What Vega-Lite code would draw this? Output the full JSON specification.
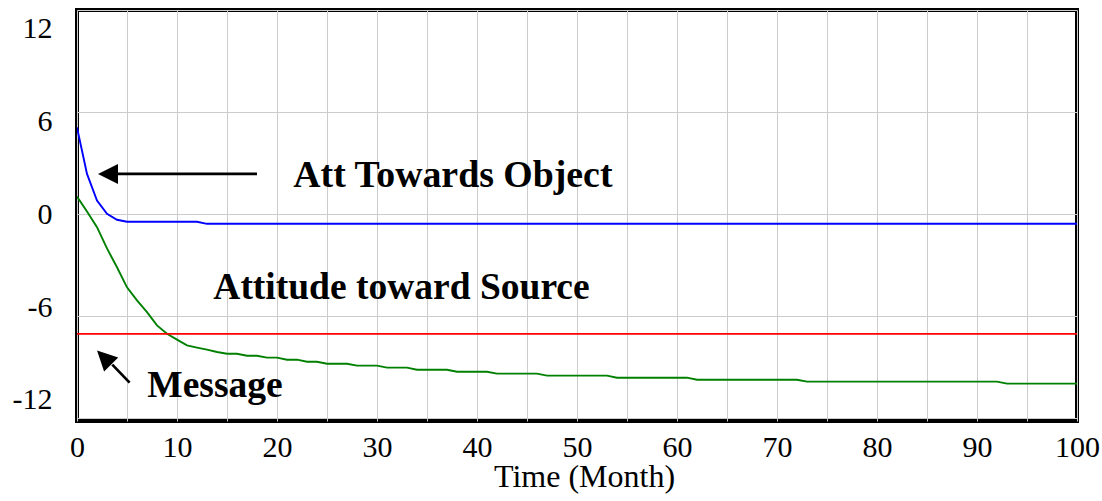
{
  "$schema": "https://vega.github.io/schema/vega-lite/v6.json",
  "width": 1000,
  "height": 411,
  "autosize": "none",
  "padding": {"left": 77, "top": 10, "right": 25, "bottom": 80},
  "background": "white",
  "config": {
    "view": {"stroke": "#000000", "strokeWidth": 4},
    "font": "Liberation Serif"
  },
  "datasets": {
    "sim": [
      {"t": 0, "series": "Att Towards Object", "value": 5.08},
      {"t": 1, "series": "Att Towards Object", "value": 2.35},
      {"t": 2, "series": "Att Towards Object", "value": 0.78},
      {"t": 3, "series": "Att Towards Object", "value": 0.0},
      {"t": 4, "series": "Att Towards Object", "value": -0.35},
      {"t": 5, "series": "Att Towards Object", "value": -0.47},
      {"t": 12, "series": "Att Towards Object", "value": -0.47},
      {"t": 13, "series": "Att Towards Object", "value": -0.59},
      {"t": 100, "series": "Att Towards Object", "value": -0.59},

      {"t": 0, "series": "Attitude toward Source", "value": 1.02},
      {"t": 1, "series": "Attitude toward Source", "value": 0.13},
      {"t": 2, "series": "Attitude toward Source", "value": -0.79},
      {"t": 3, "series": "Attitude toward Source", "value": -2.04},
      {"t": 4, "series": "Attitude toward Source", "value": -3.15},
      {"t": 5, "series": "Attitude toward Source", "value": -4.33},
      {"t": 6, "series": "Attitude toward Source", "value": -5.1},
      {"t": 7, "series": "Attitude toward Source", "value": -5.79},
      {"t": 8, "series": "Attitude toward Source", "value": -6.57},
      {"t": 9, "series": "Attitude toward Source", "value": -7.06},
      {"t": 10, "series": "Attitude toward Source", "value": -7.41},
      {"t": 11, "series": "Attitude toward Source", "value": -7.75},
      {"t": 12, "series": "Attitude toward Source", "value": -7.88},
      {"t": 13, "series": "Attitude toward Source", "value": -8.0},
      {"t": 14, "series": "Attitude toward Source", "value": -8.14},
      {"t": 15, "series": "Attitude toward Source", "value": -8.24},
      {"t": 16, "series": "Attitude toward Source", "value": -8.24},
      {"t": 17, "series": "Attitude toward Source", "value": -8.36},
      {"t": 18, "series": "Attitude toward Source", "value": -8.36},
      {"t": 19, "series": "Attitude toward Source", "value": -8.47},
      {"t": 20, "series": "Attitude toward Source", "value": -8.47},
      {"t": 21, "series": "Attitude toward Source", "value": -8.59},
      {"t": 22, "series": "Attitude toward Source", "value": -8.59},
      {"t": 23, "series": "Attitude toward Source", "value": -8.71},
      {"t": 24, "series": "Attitude toward Source", "value": -8.71},
      {"t": 25, "series": "Attitude toward Source", "value": -8.83},
      {"t": 27, "series": "Attitude toward Source", "value": -8.83},
      {"t": 28, "series": "Attitude toward Source", "value": -8.94},
      {"t": 30, "series": "Attitude toward Source", "value": -8.94},
      {"t": 31, "series": "Attitude toward Source", "value": -9.06},
      {"t": 33, "series": "Attitude toward Source", "value": -9.06},
      {"t": 34, "series": "Attitude toward Source", "value": -9.18},
      {"t": 37, "series": "Attitude toward Source", "value": -9.18},
      {"t": 38, "series": "Attitude toward Source", "value": -9.3},
      {"t": 41, "series": "Attitude toward Source", "value": -9.3},
      {"t": 42, "series": "Attitude toward Source", "value": -9.41},
      {"t": 46, "series": "Attitude toward Source", "value": -9.41},
      {"t": 47, "series": "Attitude toward Source", "value": -9.53},
      {"t": 53, "series": "Attitude toward Source", "value": -9.53},
      {"t": 54, "series": "Attitude toward Source", "value": -9.65},
      {"t": 61, "series": "Attitude toward Source", "value": -9.65},
      {"t": 62, "series": "Attitude toward Source", "value": -9.77},
      {"t": 72, "series": "Attitude toward Source", "value": -9.77},
      {"t": 73, "series": "Attitude toward Source", "value": -9.88},
      {"t": 92, "series": "Attitude toward Source", "value": -9.88},
      {"t": 93, "series": "Attitude toward Source", "value": -10.0},
      {"t": 100, "series": "Attitude toward Source", "value": -10.0},

      {"t": 0, "series": "Message", "value": -7.07},
      {"t": 100, "series": "Message", "value": -7.07}
    ]
  },
  "layer": [
    {
      "data": {"name": "sim"},
      "mark": {"type": "line", "strokeWidth": 1.9, "clip": true},
      "encoding": {
        "x": {
          "field": "t",
          "type": "quantitative",
          "scale": {"domain": [0, 100], "nice": false, "zero": false},
          "axis": {
            "values": [0, 5, 10, 15, 20, 25, 30, 35, 40, 45, 50, 55, 60, 65, 70, 75, 80, 85, 90, 95, 100],
            "labelExpr": "datum.value % 10 == 0 ? ('' + datum.value) : ''",
            "grid": true,
            "gridColor": "#cccccc",
            "gridWidth": 1,
            "domain": false,
            "ticks": false,
            "tickSize": 0,
            "labelFlush": false,
            "labelOverlap": false,
            "labelPadding": 11,
            "labelFont": "Liberation Serif",
            "labelFontSize": 30,
            "labelColor": "#000000",
            "title": "Time (Month)",
            "titleFont": "Liberation Serif",
            "titleFontSize": 32,
            "titleFontWeight": "normal",
            "titleColor": "#000000",
            "titleX": 507,
            "titleY": 65,
            "titleBaseline": "alphabetic",
            "titleAlign": "center"
          }
        },
        "y": {
          "field": "value",
          "type": "quantitative",
          "scale": {"domain": [-12.2, 12], "nice": false, "zero": false},
          "axis": {
            "values": [-12, -6, 0, 6, 12],
            "labelExpr": "'' + datum.value",
            "grid": true,
            "gridColor": "#cccccc",
            "gridWidth": 1,
            "domain": false,
            "ticks": false,
            "tickSize": 0,
            "labelPadding": 25,
            "labelFont": "Liberation Serif",
            "labelFontSize": 30,
            "labelColor": "#000000",
            "labelBaseline": "middle",
            "labelOverlap": false,
            "labelFlush": false,
            "labelOffset": {
              "condition": [
                {"test": "datum.value == 12", "value": 18},
                {"test": "datum.value == 6", "value": 9.5},
                {"test": "datum.value == -6", "value": -8},
                {"test": "datum.value == -12", "value": -18}
              ],
              "value": 1
            },
            "title": null
          }
        },
        "color": {
          "field": "series",
          "type": "nominal",
          "scale": {
            "domain": ["Att Towards Object", "Attitude toward Source", "Message"],
            "range": ["#0000ff", "#008000", "#ff0000"]
          },
          "legend": null
        },
        "detail": {"field": "series"}
      }
    },
    {
      "data": {"values": [{}]},
      "mark": {"type": "rule", "color": "#000000", "strokeWidth": 2.7},
      "encoding": {
        "x": {"datum": 4.1, "type": "quantitative"},
        "x2": {"datum": 18.0},
        "y": {"datum": 2.35, "type": "quantitative"}
      }
    },
    {
      "data": {"values": [{}]},
      "mark": {"type": "point", "shape": "M-1,0L1,-1L1,1Z", "size": 400, "filled": true, "color": "#000000", "opacity": 1, "strokeWidth": 0},
      "encoding": {
        "x": {"datum": 3.1, "type": "quantitative"},
        "y": {"datum": 2.35, "type": "quantitative"}
      }
    },
    {
      "data": {"values": [{}]},
      "mark": {"type": "rule", "color": "#000000", "strokeWidth": 2.7},
      "encoding": {
        "x": {"datum": 3.53, "type": "quantitative"},
        "y": {"datum": -8.88, "type": "quantitative"},
        "x2": {"datum": 5.26},
        "y2": {"datum": -9.94}
      }
    },
    {
      "data": {"values": [{}]},
      "mark": {"type": "point", "shape": "M-1,0L1,-1L1,1Z", "size": 400, "angle": 45, "filled": true, "color": "#000000", "opacity": 1, "strokeWidth": 0},
      "encoding": {
        "x": {"datum": 2.71, "type": "quantitative"},
        "y": {"datum": -8.46, "type": "quantitative"}
      }
    },
    {
      "data": {"values": [{}]},
      "mark": {"type": "text", "text": "Att Towards Object", "font": "Liberation Serif", "fontSize": 37.8, "fontWeight": "bold", "align": "left", "baseline": "alphabetic", "color": "#000000"},
      "encoding": {
        "x": {"datum": 21.63, "type": "quantitative"},
        "y": {"datum": 1.56, "type": "quantitative"}
      }
    },
    {
      "data": {"values": [{}]},
      "mark": {"type": "text", "text": "Attitude toward Source", "font": "Liberation Serif", "fontSize": 37.5, "fontWeight": "bold", "align": "left", "baseline": "alphabetic", "color": "#000000"},
      "encoding": {
        "x": {"datum": 13.63, "type": "quantitative"},
        "y": {"datum": -5.0, "type": "quantitative"}
      }
    },
    {
      "data": {"values": [{}]},
      "mark": {"type": "text", "text": "Message", "font": "Liberation Serif", "fontSize": 37.5, "fontWeight": "bold", "align": "left", "baseline": "alphabetic", "color": "#000000"},
      "encoding": {
        "x": {"datum": 7.03, "type": "quantitative"},
        "y": {"datum": -10.79, "type": "quantitative"}
      }
    }
  ]
}
